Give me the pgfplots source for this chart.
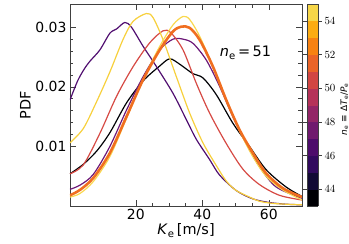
\documentclass[border=0pt]{standalone}
\usepackage{fontspec}
\setmainfont{DejaVu Sans}
\usepackage{pgfplots}
\pgfplotsset{compat=1.18}
\definecolor{c44}{RGB}{0,0,4}
\definecolor{c47}{RGB}{80,14,112}
\definecolor{c48}{RGB}{108,24,120}
\definecolor{c50}{RGB}{214,74,68}
\definecolor{c51}{RGB}{240,110,32}
\definecolor{c54}{RGB}{247,208,60}
\definecolor{c55}{RGB}{249,216,78}
\begin{document}
\begin{tikzpicture}
\begin{axis}[
  name=main,
  at={(0,0)}, anchor=south west,
  scale only axis, width=232bp, height=202bp,
  xmin=0.2, xmax=70, ymin=0, ymax=0.0339,
  xtick={20,40,60}, minor x tick num=3,
  ytick={0.01,0.02,0.03}, minor y tick num=4,
  tick align=inside, xtick pos=both, ytick pos=both,
  major tick length=6bp, minor tick length=3.5bp,
  scaled y ticks=false,
  /pgf/number format/assume math mode=true,
  yticklabel style={/pgf/number format/.cd, fixed, fixed zerofill, precision=2},
  ticklabel style={font=\fontsize{14}{16}\selectfont},
  label style={font=\fontsize{14.5}{17}\selectfont},
  xlabel={\textit{K}\textsubscript{e}\,[m/s]},
  ylabel={PDF},
  xlabel style={yshift=3bp},
  ylabel style={yshift=-2bp},
  axis line style={line width=0.9pt, black!75},
  every tick/.style={black!75, line width=0.5pt},
  colormap={inf}{rgb255(0)=(0,0,4) rgb255(1)=(18,10,52) rgb255(2)=(50,10,94) rgb255(3)=(77,12,107) rgb255(4)=(112,26,110) rgb255(5)=(147,38,103) rgb255(6)=(181,51,89) rgb255(7)=(210,70,67) rgb255(8)=(234,100,40) rgb255(9)=(247,130,18) rgb255(10)=(252,172,18) rgb255(11)=(246,214,72) rgb255(12)=(246,214,72)},
  colormap access=piecewise constant,
  point meta min=43, point meta max=55,
  colorbar,
  colorbar shift/.style={xshift=3bp},
  colorbar style={
    at={(parent axis.north east)}, anchor=north west, xshift=2.5bp,
    scale only axis, width=10.5bp, height=202bp,
    ytick={44,46,48,50,52,54},
    ytick align=outside, major tick length=4bp,
    yticklabel style={font=\fontsize{10.5}{12}\selectfont, xshift=-1bp},
    axis line style={line width=0.6pt, black!75},
    every tick/.style={black!75, line width=0.5pt},
  },
  every axis plot/.append style={smooth, line width=1.2pt, no markers},
]
\addplot[c44] coordinates {(0.2,0.0054) (4.2,0.0070) (8.2,0.0092) (12.2,0.0123) (17.2,0.0173) (22.2,0.0210) (27.2,0.0235) (30.2,0.0247) (33.2,0.0238) (37.2,0.0222) (40.2,0.0215) (44.2,0.0187) (49.2,0.0139) (54.2,0.0100) (59.2,0.0061) (65.2,0.0032) (70,0.0016)};
\addplot[c47] coordinates {(0.2,0.0178) (2.5,0.0210) (4.5,0.0230) (6.2,0.0243) (9.2,0.0262) (12.2,0.0290) (14.2,0.0297) (16.7,0.0308) (18.7,0.0300) (22.2,0.0268) (26.2,0.0234) (31.2,0.0189) (35.2,0.0145) (38.2,0.0112) (42.2,0.0078) (45.2,0.0052) (50.2,0.0026) (55.2,0.0012) (60,0.0006) (65.2,0.0003) (70,0.0002)};
\addplot[c48] coordinates {(0.2,0.0028) (3.2,0.0035) (7.2,0.0053) (12.2,0.0100) (17.2,0.0161) (22.2,0.0217) (27.2,0.0262) (31.2,0.0280) (34.2,0.0280) (37.2,0.0273) (41.2,0.0245) (45.2,0.0201) (49.2,0.0150) (53.2,0.0105) (57.2,0.0066) (62.2,0.0032) (70,0.0013)};
\addplot[c50] coordinates {(0.2,0.0054) (4.2,0.0069) (9.2,0.0122) (14.2,0.0184) (19.2,0.0234) (24.2,0.0274) (28.2,0.0294) (30.5,0.0291) (34.2,0.0262) (38.2,0.0206) (42.2,0.0156) (47.2,0.0105) (52.2,0.0062) (57.2,0.0036) (63.2,0.0018) (70,0.0010)};
\addplot[c54] coordinates {(0.2,0.0106) (4.2,0.0130) (8.2,0.0175) (12.2,0.0225) (16.2,0.0280) (19.2,0.0310) (23.2,0.0323) (25.2,0.0316) (28.2,0.0279) (32.2,0.0217) (36.2,0.0156) (40.2,0.0106) (44.2,0.0068) (47.2,0.0042) (50.2,0.0026) (54.2,0.0015) (57.2,0.0008) (62,0.0004) (70,0.0002)};
\addplot[c55] coordinates {(0.2,0.0015) (3.2,0.0021) (7.2,0.0041) (12.2,0.0083) (17.2,0.0147) (22.2,0.0212) (27.2,0.0268) (31.2,0.0304) (34.2,0.0318) (36.2,0.0313) (39.2,0.0285) (43.2,0.0234) (47.2,0.0178) (51.2,0.0126) (55.2,0.0083) (59.2,0.0050) (64.2,0.0027) (70,0.0010)};
\addplot[c51, line width=2.6pt] coordinates {(0.2,0.0018) (3.2,0.0027) (7.2,0.0047) (12.2,0.0089) (17.2,0.0150) (22.2,0.0212) (27.2,0.0262) (31.2,0.0293) (33.7,0.0301) (36.2,0.0299) (39.2,0.0279) (43.2,0.0234) (47.2,0.0178) (51.2,0.0128) (55.2,0.0089) (59.2,0.0055) (64.2,0.0030) (70,0.0015)};
\node[font=\fontsize{14.5}{17}\selectfont] at (axis cs:53,0.0257) {\textit{n}\textsubscript{e}\,=\,51};
\end{axis}
\node[rotate=90, inner sep=0pt, font=\fontsize{9}{11}\selectfont] at (274.5bp,97bp) {\textit{n}\textsubscript{e} ≡ Δ\textit{T}\textsubscript{e}/\textit{P}\textsubscript{e}};
\pgfresetboundingbox
\path (-70bp,-38bp) rectangle (279bp,206bp);
\end{tikzpicture}
\end{document}
